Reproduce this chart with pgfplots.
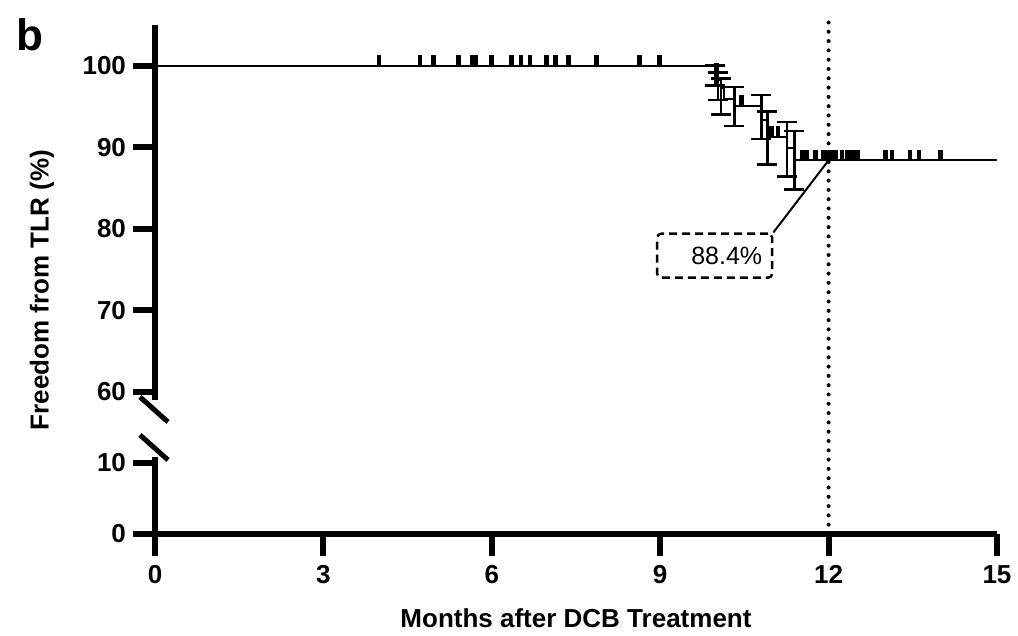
\documentclass[border=0pt]{standalone}
\usepackage{fontspec}
\setmainfont{Liberation Sans}
\usepackage{pgfplots}
\pgfplotsset{compat=1.18}

\pgfplotsset{
  kmbase/.style={
    scale only axis, width=421pt, xmin=0, xmax=15,
    axis line style={-, line width=3pt},
    tick style={black, line width=3pt},
    tick align=outside, major tick length=11pt,
    tick label style={font=\fontsize{13}{15}\selectfont\bfseries},
    /pgf/number format/assume math mode=true,
    clip=false,
  },
  censor/.style={only marks, mark=|, mark size=2.6pt,
    mark options={line width=2.4pt, yshift=2.6pt}},
}

\begin{document}
\begin{tikzpicture}
\path[use as bounding box] (-77.5pt,-51pt) rectangle (431.5pt,267pt);

% lower segment (0-10)
\begin{axis}[kmbase,
    at={(0,0)}, height=38.5pt,
    ymin=0, ymax=10.85,
    axis x line*=bottom, axis y line*=left,
    xtick={0,3,...,15}, ytick={0,10},
    xticklabel style={anchor=base, yshift=-14pt},
    xlabel={\bfseries Months after DCB Treatment},
    xlabel style={font=\fontsize{13}{15}\selectfont, at={(axis description cs:0.5,0)}, anchor=center, yshift=-42pt},
]
\draw[line width=2pt, line cap=round, dash pattern=on 0pt off 4.65pt]
  (axis cs:12,0) -- ++(0,256pt);
\end{axis}

% upper segment (60-100)
\begin{axis}[kmbase,
    at={(0,67pt)}, height=187.5pt,
    ymin=59, ymax=105,
    axis x line=none, axis y line*=left,
    xtick=\empty, ytick={60,70,...,100},
]
\addplot[const plot, line width=1pt] coordinates {
  (0,100) (9.98,99.1) (10.03,98.2) (10.08,97.3) (10.13,95.9) (10.32,95.1)
  (10.80,93.3) (10.91,91.3) (11.26,89.9) (11.39,88.4) (15,88.4)};

\addplot[draw=none, mark=none,
  error bars/.cd, y dir=both, y explicit,
  error bar style={draw=black, solid, line width=1.3pt},
  error mark options={draw=black, rotate=90, mark size=5pt, line width=1.3pt}]
  coordinates {
  (9.98,99.1) += (0,0.9) -= (0,1.5)
  (10.03,98.2) += (0,1.0) -= (0,2.4)
  (10.08,97.3) += (0,1.1) -= (0,3.3)
  (10.32,95.1) += (0,2.3) -= (0,2.5)
  (10.80,93.3) += (0,3.1) -= (0,2.3)
  (10.91,91.3) += (0,3.1) -= (0,3.4)
  (11.26,89.9) += (0,3.2) -= (0,3.5)
  (11.39,88.4) += (0,3.6) -= (0,3.6)
};

% censored observations
\addplot[censor] coordinates {
  (3.99,100) (4.72,100) (4.96,100) (5.41,100) (5.66,100) (5.71,100)
  (6.00,100) (6.35,100) (6.52,100) (6.68,100) (6.98,100) (7.14,100)
  (7.37,100) (7.86,100) (8.63,100) (8.99,100)
  (10.00,99.1) (10.45,95.1) (10.98,91.3) (11.10,91.3)
  (11.53,88.4) (11.60,88.4) (11.76,88.4) (11.90,88.4) (11.97,88.4)
  (12.05,88.4) (12.12,88.4) (12.24,88.4) (12.33,88.4) (12.42,88.4)
  (12.51,88.4) (13.01,88.4) (13.13,88.4) (13.45,88.4) (13.61,88.4)
  (14.00,88.4)};

\node[draw, line width=1.2pt, dash pattern=on 4pt off 2.5pt, rounded corners=2pt,
  text width=47.5pt, align=right, inner xsep=5pt, minimum height=22pt,
  font=\fontsize{12.5}{14}\selectfont] (lab) at (axis cs:9.97,76.7) {88.4\%};
\draw[line width=1pt] (lab.north east) -- (axis cs:12,88.4);
\end{axis}

% axis break marks
\draw[line width=2.5pt] (-7.5pt,68.5pt) -- (6.5pt,56pt);
\draw[line width=2.5pt] (-7.5pt,49.5pt) -- (6.5pt,37pt);

\node[rotate=90, font=\fontsize{13}{15}\selectfont\bfseries] at (-56.5pt,122pt) {Freedom from TLR (\%)};
\node[font=\fontsize{22}{24}\selectfont\bfseries] at (-62.5pt,249.5pt) {b};
\end{tikzpicture}
\end{document}
